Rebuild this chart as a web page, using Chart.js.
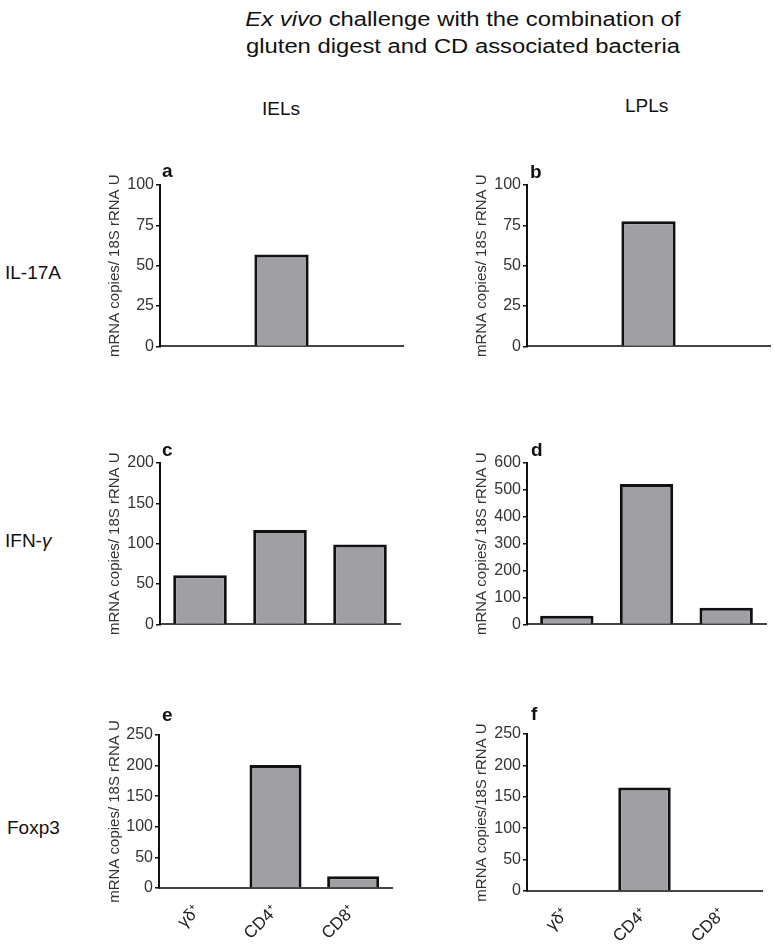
<!DOCTYPE html>
<html>
<head>
<meta charset="utf-8">
<script src="https://cdn.jsdelivr.net/npm/chart.js@4/dist/chart.umd.min.js"></script>
<style>
  body { margin: 0; background: #fff; font-family: "Liberation Sans", Arial, sans-serif; color: #111; }
  #page { position: relative; width: 774px; height: 945px; overflow: hidden; }
  .txt { position: absolute; white-space: nowrap; line-height: 1; }
  .title { font-size: 20px; width: 500px; left: 213px; text-align: center; transform: scaleX(1.19); }
  .panel { position: absolute; }
  .lbl { position: absolute; font-weight: bold; font-size: 19px; line-height: 1; z-index: 2; }
  .row { position: absolute; font-size: 19px; line-height: 1; }
</style>
</head>
<body>
<div id="page">
  <div class="txt title" style="top:9px;"><i>Ex vivo</i> challenge with the combination of</div>
  <div class="txt title" style="top:36px;">gluten digest and CD associated bacteria</div>
  <div class="txt" style="left:262px; top:99px; font-size:19px;">IELs</div>
  <div class="txt" style="left:625px; top:96px; font-size:19px;">LPLs</div>

  <div class="row" style="left:5px; top:263px;">IL-17A</div>
  <div class="row" style="left:5px; top:531px;">IFN-<i>γ</i></div>
  <div class="row" style="left:7px; top:818px;">Foxp3</div>

  <div class="lbl" style="left:162px; top:161px;">a</div>
  <div class="lbl" style="left:530px; top:162px;">b</div>
  <div class="lbl" style="left:162px; top:440px;">c</div>
  <div class="lbl" style="left:531px; top:440px;">d</div>
  <div class="lbl" style="left:162px; top:705px;">e</div>
  <div class="lbl" style="left:531px; top:704px;">f</div>

  <div class="panel" style="left:100px; top:173px; width:306px; height:185px;"><canvas id="chartA"></canvas></div>
  <div class="panel" style="left:467px; top:173px; width:306px; height:185px;"><canvas id="chartB"></canvas></div>
  <div class="panel" style="left:100px; top:451px; width:303px; height:185px;"><canvas id="chartC"></canvas></div>
  <div class="panel" style="left:467px; top:451px; width:302px; height:185px;"><canvas id="chartD"></canvas></div>
  <div class="panel" style="left:100px; top:711px; width:295px; height:233px;"><canvas id="chartE"></canvas></div>
  <div class="panel" style="left:467px; top:710px; width:298px; height:237px;"><canvas id="chartF"></canvas></div>
</div>
<script>
// categories
const cellTypes = ['γδ⁺', 'CD4⁺', 'CD8⁺'];

// mRNA copies / 18S rRNA U
const il17aIEL = [0, 57, 0];
const il17aLPL = [0, 77.5, 0];
const ifngIEL = [61, 117, 99];
const ifngLPL = [32, 522, 62];
const foxp3IEL = [0, 201, 19];
const foxp3LPL = [0, 165, 0];

// y axis maxima and steps
const axisMax = [100, 100, 200, 600, 250, 250];
const axisStep = [25, 25, 50, 100, 50, 50];

const yTitle = 'mRNA copies/ 18S rRNA U';
const yTitleF = 'mRNA copies/18S rRNA U';

function makePanel(id, data, max, step, opts) {
    return new Chart(document.getElementById(id), {
        type: 'bar',
        data: {
            labels: cellTypes,
            datasets: [{
                data: data,
                backgroundColor: '#a0a0a4',
                borderColor: '#111',
                borderWidth: 3,
                barPercentage: 0.67,
                categoryPercentage: 1
            }]
        },
        options: {
            responsive: true,
            maintainAspectRatio: false,
            animation: false,
            layout: { padding: { top: opts.padTop || 12, right: 3, left: 0, bottom: 0 } },
            plugins: { legend: { display: false }, tooltip: { enabled: false } },
            scales: {
                x: {
                    grid: { display: false, drawTicks: false },
                    border: { display: true, color: '#444', width: 2 },
                    ticks: {
                        display: opts.showX,
                        minRotation: 45,
                        maxRotation: 45,
                        color: '#222',
                        padding: 13,
                        font: { family: 'Liberation Sans', size: 17 }
                    },
                    afterFit: s => { s.height = opts.xHeight; }
                },
                y: {
                    min: 0,
                    max: max,
                    grid: { drawOnChartArea: false, tickLength: 4, color: '#111', lineWidth: 1.5 },
                    border: { color: '#111', width: 2 },
                    ticks: {
                        stepSize: step,
                        padding: 2,
                        color: '#333',
                        font: { family: 'Liberation Sans', size: 16 }
                    },
                    title: {
                        display: true,
                        text: opts.title || yTitle,
                        color: '#333',
                        padding: { top: 6, bottom: 0 },
                        font: { family: 'Liberation Sans', size: 15 }
                    },
                    afterFit: s => { s.width = opts.yWidth; }
                }
            }
        }
    });
}

makePanel('chartA', il17aIEL, axisMax[0], axisStep[0], { showX: false, xHeight: 10, yWidth: 60 });
makePanel('chartB', il17aLPL, axisMax[1], axisStep[1], { showX: false, xHeight: 10, yWidth: 60 });
makePanel('chartC', ifngIEL, axisMax[2], axisStep[2], { showX: false, xHeight: 10, yWidth: 60 });
makePanel('chartD', ifngLPL, axisMax[3], axisStep[3], { showX: false, xHeight: 10, yWidth: 60 });
makePanel('chartE', foxp3IEL, axisMax[4], axisStep[4], { showX: true, xHeight: 56, yWidth: 59, padTop: 24 });
makePanel('chartF', foxp3LPL, axisMax[5], axisStep[5], { showX: true, xHeight: 56, yWidth: 60, padTop: 24, title: yTitleF });
</script>
</body>
</html>
